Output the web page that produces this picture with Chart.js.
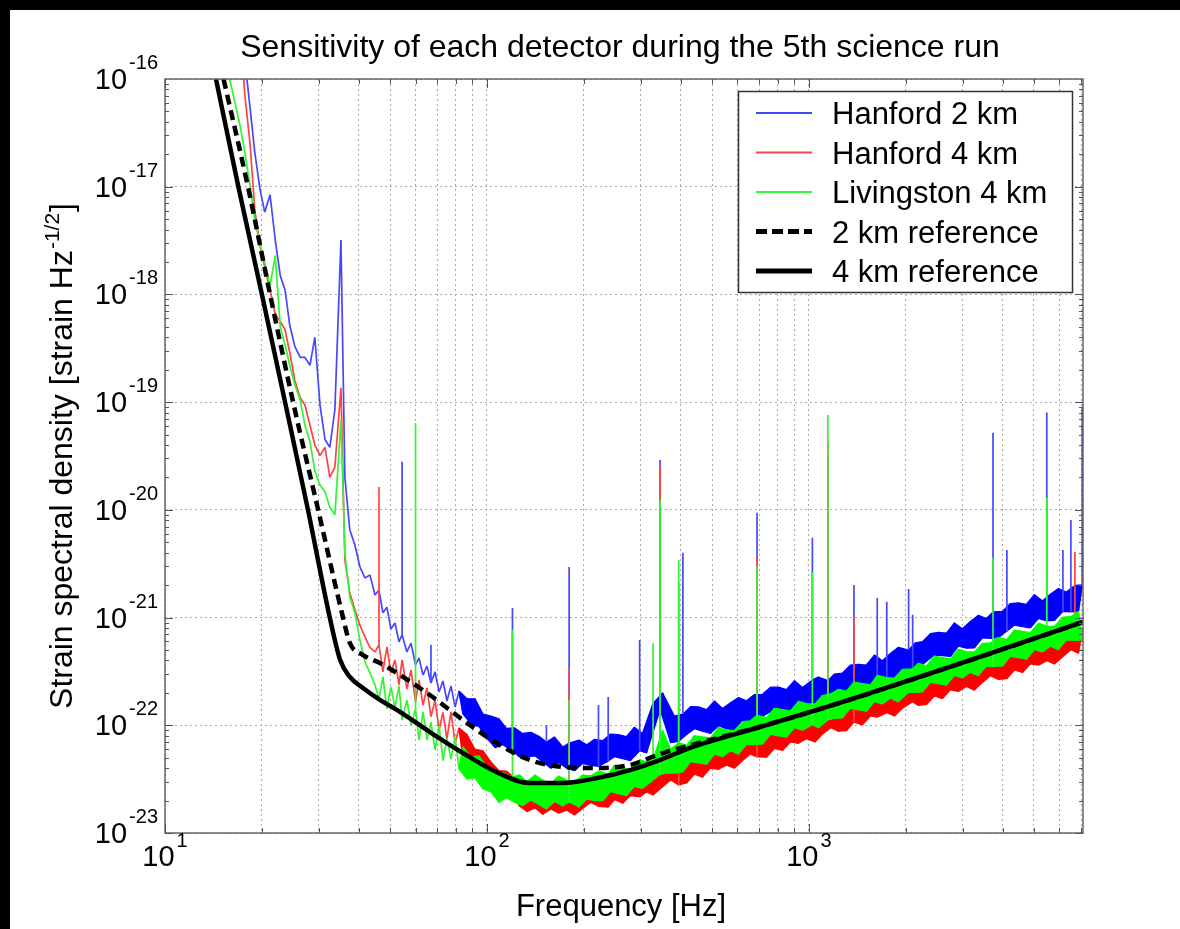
<!DOCTYPE html>
<html>
<head>
<meta charset="utf-8">
<title>Sensitivity of each detector during the 5th science run</title>
<script src="https://cdn.jsdelivr.net/npm/chart.js@4/dist/chart.umd.min.js"></script>
<style>
  html, body { margin: 0; padding: 0; background: #fff; overflow: hidden; width: 100%; height: 100%; }
  #sensChart { position: fixed; left: 0; top: 0; display: block; }
</style>
</head>
<body>
<canvas id="sensChart" width="1180" height="929"></canvas>
<script>
// amplitudes below are in units of 1e-23 strain/sqrt(Hz)
var ASD_UNIT = 1e-23

// seismic wall, below ~45 Hz each spectrum is a single trace [Hz]
var lowFreqHz = [
  15.4, 15.9, 16.5, 17.1, 17.7, 18.4, 19.0, 19.7, 20.4, 21.2,
  22.0, 22.8, 23.6, 24.4, 25.3, 26.3, 27.2, 28.2, 29.2, 30.3,
  31.4, 32.5, 33.7, 35.2, 36.2, 37.5, 38.9, 40.3, 41.8, 43.3,
  44.9
]
var h2Low = [
  1e9, 4e8, 1.3e8, 4.4e7, 1.5e7, 5.2e6, 2.1e6, 9.7e5, 5.8e5, 8.4e5,
  3.2e5, 1.5e5, 1.1e5, 5.2e4, 3.3e4, 2.6e4, 2.6e4, 2.2e4, 4.0e4, 9.4e3,
  4.5e3, 3.8e3, 8.5e3, 3.2e5, 2.0e3, 650, 472, 295, 233, 249,
  162
]
var h1Low = [
  1e9, 3e8, 1e8, 3e7, 7.1e6, 2.4e6, 6.1e5, 2.9e5, 1.8e5, 1.1e5,
  6.5e4, 5.6e4, 4.7e4, 2.9e4, 1.6e4, 1.1e4, 9.4e3, 6.1e3, 4.0e3, 3.2e3,
  3.8e3, 2.0e3, 2.5e3, 1.36e4, 343, 169, 118, 85, 66, 53,
  48
]
var l1Low = [
  1.5e7, 9.8e6, 6.0e6, 3.7e6, 2.1e6, 1.0e6, 4.9e5, 3.0e5, 2.0e5, 1.2e5,
  2.3e5, 5.0e4, 3.4e4, 2.2e4, 1.45e4, 1.05e4, 6.1e3, 4.3e3, 2.3e3, 1.7e3,
  1.47e3, 1.06e3, 900, 6.8e3, 400, 155, 110, 62, 38.7, 30.6,
  23.7
]

// above ~45 Hz: noisy floor, alternating upper / lower excursion per bin
var bandFreqHz = [
  46.2, 47.5, 48.9, 50.3, 51.8, 53.3, 54.5, 56.4, 58.1, 60,
  61.5, 63.3, 65.1, 67.0, 69.0, 71.0, 73.0, 75.1, 77.3, 79.6,
  81.9, 84.3, 86.7, 89.2, 91.8, 94.5, 97.2, 100, 103, 106,
  109, 112, 115, 120, 122, 126, 129, 133, 137, 141,
  145, 149, 153, 158, 162, 167, 172, 177, 180, 187,
  193, 198, 204, 210, 216, 222, 229, 238, 242, 249,
  256, 264, 271, 279, 287, 298, 304, 313, 322, 328,
  345, 351, 361, 372, 382, 394, 406, 417, 429, 441,
  454, 467, 481, 495, 509, 524, 539, 555, 571, 587,
  604, 622, 640, 658, 677, 690, 717, 738, 760, 782,
  804, 828, 852, 876, 902, 928, 955, 982, 1025, 1045,
  1070, 1101, 1145, 1170, 1200, 1235, 1270, 1307, 1345, 1380,
  1425, 1466, 1508, 1552, 1597, 1630, 1691, 1745, 1791, 1843,
  1896, 1951, 2040, 2100, 2140, 2188, 2251, 2317, 2384, 2453,
  2524, 2597, 2673, 2750, 2830, 2912, 2997, 3084, 3173, 3265,
  3360, 3458, 3558, 3661, 3730, 3877, 3989, 4120, 4224, 4347,
  4473, 4603, 4736, 4874, 5015, 5161, 5310, 5480, 5623, 5786,
  5954, 6150, 6304, 6510, 6700, 6869, 7060
]
var h2Band = [
  180, 111, 125, 78.5, 89, 59.4, 69, 48, 58, 36.3,
  42.2, 29.3, 35.4, 24.7, 31.3, 20.4, 25.8, 16.8, 23.2, 14.8,
  20.8, 12.7, 17.7, 10.3, 17.6, 9.7, 12.7, 7.55, 12.2, 6.2,
  11.5, 6.6, 9.35, 5.8, 9.45, 5.1, 8.4, 5.1, 8.6, 5.2,
  7.9, 4.55, 7.0, 4.0, 7.8, 4.5, 6.3, 4.0, 6.85, 3.78,
  7.3, 4.42, 6.6, 4.25, 7.4, 4.15, 7.2, 4.65, 8.3, 5.1,
  8.2, 4.9, 7.85, 4.7, 9.6, 5.8, 8.4, 5.53, 12.4, 16,
  14, 20, 14.5, 6.9, 12.2, 7.1, 12.7, 8.2, 14.9, 9.3,
  14.8, 8.8, 14.0, 8.4, 16.8, 9.9, 14.3, 9.25, 16.2, 9.1,
  18.1, 11.1, 16.9, 10.9, 19.3, 11.2, 19.4, 12.7, 22.6, 14.1,
  22.6, 13.5, 21.5, 12.9, 26, 15.6, 22.4, 14.6, 26.4, 14.2,
  28.1, 17.2, 26, 17.0, 29.9, 17.4, 30.5, 20.1, 36.2, 22.6,
  36.7, 22.3, 36.3, 21.9, 44.9, 27.3, 39.7, 26.4, 46.4, 26.4,
  53.0, 32.9, 50, 33, 58.2, 33.8, 59.7, 39.3, 71, 44.9,
  73.0, 44.3, 71.8, 43.5, 89.3, 54.2, 78.8, 52.0, 92, 52.3,
  105, 64.8, 98, 64.2, 113, 65.2, 114, 75, 135, 84.9,
  137, 82.5, 133, 80.2, 163, 98, 143, 93, 165, 94,
  186, 114, 173, 113, 199, 114, 201
]
var h1Band = [
  55.7, 31.3, 53.4, 30.6, 40.4, 23.7, 40.4, 21.7, 32.6, 16.5,
  26.4, 15.4, 22.2, 12.0, 17.1, 9.0, 13.2, 7.45, 13.3, 6.85,
  9.45, 4.97, 8.2, 4.6, 6.0, 3.45, 5.8, 3.1, 4.55, 2.35,
  3.8, 2.3, 3.75, 2.2, 3.25, 1.79, 2.7, 1.58, 3.0, 1.71,
  2.58, 1.49, 2.68, 1.67, 2.4, 1.53, 2.8, 1.63, 2.62, 1.47,
  2.6, 1.69, 3.0, 1.92, 3.0, 1.77, 2.8, 1.74, 3.52, 2.04,
  3.18, 1.89, 3.52, 2.22, 3.3, 2.16, 4.1, 2.4, 3.97, 2.25,
  4.1, 2.68, 4.8, 3.1, 4.9, 2.79, 4.6, 2.91, 5.9, 3.52,
  5.5, 3.3, 6.2, 4.0, 5.9, 3.9, 7.2, 4.27, 7.0, 4.0,
  7.1, 4.7, 8.4, 5.4, 8.5, 5.08, 8.2, 5.05, 10.4, 6.1,
  9.7, 5.85, 11.0, 7.0, 10.3, 6.8, 12.7, 7.5, 12.3, 7.0,
  12.5, 8.3, 15.4, 9.5, 14.9, 8.8, 14.2, 8.9, 18.1, 10.7,
  16.9, 10.1, 19.0, 12.2, 18.1, 11.9, 22.2, 13.1, 21.5, 12.2,
  21.8, 14.4, 25.7, 16.5, 26.1, 15.3, 24.7, 15.6, 31.6, 18.7,
  29.2, 17.7, 33.2, 21.3, 31.4, 20.6, 38.8, 22.9, 37.6, 21.2,
  38.1, 25.0, 44.8, 28.8, 45.4, 26.7, 43.1, 27.1, 55.4, 32.6,
  51.4, 30.9, 58, 37.2, 55, 36.1, 67.6, 39.7, 65.7, 37.1,
  66.5, 43.5, 78.4, 50.2, 79.5, 46.6, 76.4
]
var l1Band = [
  17.6, 28.1, 14.2, 22.7, 14.5, 23.2, 11.2, 17.1, 9.9, 14.2,
  7.3, 13.3, 7.3, 10.7, 5.9, 9.9, 4.7, 7.62, 4.86, 7.8,
  3.92, 6.3, 3.17, 5.1, 3.24, 5.2, 2.56, 4.1, 2.4, 3.44,
  1.92, 3.65, 2.14, 3.3, 1.92, 3.47, 1.79, 3.0, 2.02, 3.45,
  1.84, 3.1, 1.67, 2.87, 1.96, 3.38, 1.78, 3.08, 1.94, 2.95,
  1.74, 3.44, 2.07, 3.4, 2.0, 3.75, 2.0, 3.52, 2.42, 4.26,
  2.32, 4.05, 2.22, 3.87, 2.71, 4.8, 2.6, 4.57, 2.96, 4.76,
  3.5, 9.0, 3.6, 6.0, 3.6, 6.9, 3.7, 6.5, 4.6, 8.0,
  4.47, 7.8, 4.35, 7.65, 5.4, 9.5, 5.1, 9.0, 5.8, 8.95,
  5.4, 10.8, 6.65, 11.0, 6.6, 12.4, 6.7, 11.8, 8.25, 14.4,
  7.95, 14.0, 7.75, 13.6, 9.5, 16.7, 9.0, 15.9, 10.1, 15.8,
  9.5, 18.9, 11.2, 19.6, 11.6, 21.6, 11.7, 20.8, 14.4, 25.2,
  13.9, 24.4, 13.5, 23.7, 16.6, 29.1, 15.8, 27.7, 17.8, 27.4,
  16.5, 33.0, 20.3, 33.5, 20.2, 37.7, 20.4, 35.7, 25.0, 44.0,
  24.3, 42.6, 23.6, 41.4, 29.0, 50.8, 27.5, 48.4, 31.0, 47.9,
  28.9, 57.6, 35.4, 58.4, 35, 65.7, 35.5, 62.6, 43.7, 76.5,
  42.4, 74.6, 41, 72.5, 50.4, 88.7, 48, 83, 54.2, 82.8,
  50.2, 101, 62.2, 102, 61.5, 114, 62
]

// narrow lines (power mains, violin modes, calibration) : frequency and peak
var h2LineHz = [54.5, 67.0, 120, 153, 180, 222, 238, 298, 345, 406, 690, 1025, 1145, 1380,
  1630, 1745, 2040, 2100, 3730, 4120, 5480, 6150, 6510, 7060]
var h2LinePeak = [2800, 56, 123, 10.0, 295, 15.4, 18.3, 62, 2900, 399, 939, 550, 3240, 201,
  152, 140, 184, 106, 5200, 424, 8000, 424, 803, 8900]
var h1LineHz = [46.2, 180, 345, 394, 690, 1145, 1380, 6700]
var h1LinePeak = [1630, 34.1, 2600, 214, 380, 4270, 101, 406]
var l1LineHz = [60, 120, 180, 328, 345, 394, 690, 1025, 1145, 3730, 5480]
var l1LinePeak = [6400, 77, 17.1, 58.2, 1240, 343, 300, 265, 7600, 359, 1290]

// design sensitivity curves
var ref2kmFreq = [15.2, 18.1, 21.2, 25.0, 29.9, 35.7, 37.5, 41.2, 46.5, 52.5, 66.5, 84.2,
  107, 136, 172, 220, 278, 344, 436, 705, 1137, 3396, 7100]
var ref2km = [1e7, 1e6, 1e5, 1e4, 1e3, 101, 58.1, 44.9, 37.9, 30.6, 19.1, 11.2,
  6.85, 4.76, 4.1, 4.01, 4.28, 5.4, 6.6, 9.7, 14.8, 43.1, 91]
var ref4kmFreq = [14.4, 16.9, 20.0, 23.6, 27.8, 32.5, 35.0, 37.5, 41.2, 46.5, 52.5, 66.5, 84.2,
  107, 136, 172, 220, 278, 344, 436, 705, 1137, 3396, 7100]
var ref4km = [1e7, 1e6, 1e5, 1e4, 1e3, 100, 40.4, 28.1, 22.2, 17.2, 13.9, 8.66, 5.53,
  3.68, 2.91, 2.91, 3.24, 3.84, 4.76, 6.29, 9.64, 14.8, 43.1, 91]

// axes
var xGridHz = [10, 20, 30, 40, 50, 60, 70, 80, 90, 100, 200, 300, 400, 500, 600, 700, 800, 900,
  1000, 2000, 3000, 4000, 5000, 6000, 7000]
var xLabelExp = [1, 2, 3]
var yDecades = [-23, -22, -21, -20, -19, -18, -17, -16]
var legendOrder = ['Hanford 2 km', 'Hanford 4 km', 'Livingston 4 km', '2 km reference', '4 km reference']

var FONT = '"Liberation Sans", Arial, Helvetica, sans-serif'
// dense bands are saturated, single thin traces look lighter
var BLUE = '#0000ff', RED = '#ff0000', GREEN = '#00ff00'
var BLUE_THIN = '#4747ff', RED_THIN = '#ff4242', GREEN_THIN = '#33f533'
var DENSE_FROM_HZ = 80   // above this the traces merge into a solid band

function toPoints(freqs, vals) {
  return freqs.map(function (f, i) { return { x: f, y: vals[i] * ASD_UNIT } })
}

// whole trace: seismic wall followed by the noisy floor
function fullTrace(low, band) {
  return toPoints(lowFreqHz.concat(bandFreqHz), low.concat(band))
}

// upper or lower excursions of the floor, used as the edges of the dense band
function envelope(band, upper) {
  var pts = []
  for (var i = 0; i < band.length; i++) {
    if (bandFreqHz[i] < DENSE_FROM_HZ) continue
    var prev = i > 0 ? band[i - 1] : band[i + 1]
    var next = i < band.length - 1 ? band[i + 1] : band[i - 1]
    var isMax = band[i] >= prev && band[i] >= next
    var isMin = band[i] <= prev && band[i] <= next
    var edge = bandFreqHz[i - 1] < DENSE_FROM_HZ || i === band.length - 1
    if ((upper ? isMax : isMin) || edge) pts.push({ x: bandFreqHz[i], y: band[i] * ASD_UNIT })
  }
  return pts
}

// vertical segments from the floor up to each line peak
function lineSegments(hz, peaks, band) {
  var pts = []
  hz.forEach(function (f, i) {
    var k = bandFreqHz.indexOf(f)
    var base = k >= 0 ? band[k] : peaks[i] / 10
    pts.push({ x: f, y: base * ASD_UNIT }, { x: f, y: peaks[i] * ASD_UNIT }, { x: f, y: null })
  })
  return pts
}

function isDecade(v) {
  var l = Math.log10(v)
  return Math.abs(l - Math.round(l)) < 1e-9
}

// "10" with a raised exponent; anchor 'center' or 'right'
function drawPower(ctx, exp, x, y, anchor, size, supSize, rise) {
  ctx.font = size + 'px ' + FONT
  var wb = ctx.measureText('10').width
  ctx.font = supSize + 'px ' + FONT
  var ws = ctx.measureText(exp).width
  var total = wb + 2 + ws
  var x0 = anchor === 'center' ? x - total / 2 : x - total
  ctx.textAlign = 'left'
  ctx.font = size + 'px ' + FONT
  ctx.fillText('10', x0, y)
  ctx.font = supSize + 'px ' + FONT
  ctx.fillText(exp, x0 + wb + 2, y - rise)
}

var frameAndText = {
  id: 'frameAndText',
  beforeDraw: function (chart) {
    var ctx = chart.ctx
    ctx.save()
    ctx.fillStyle = '#fff'
    ctx.fillRect(0, 0, chart.width, chart.height)
    ctx.fillStyle = '#000'
    ctx.fillRect(0, 0, chart.width, 10)
    ctx.fillRect(0, 0, 10, chart.height)
    ctx.restore()
  },
  afterDraw: function (chart) {
    var ctx = chart.ctx
    var a = chart.chartArea
    var xs = chart.scales.x
    var ys = chart.scales.y
    ctx.save()

    // axis box
    ctx.strokeStyle = '#666'
    ctx.lineWidth = 1.5
    ctx.strokeRect(a.left, a.top, a.right - a.left, a.bottom - a.top)

    // tick marks on all four sides
    ctx.beginPath()
    ctx.lineWidth = 1
    ctx.strokeStyle = '#555'
    xGridHz.forEach(function (f) {
      var px = Math.round(xs.getPixelForValue(f)) + 0.5
      var len = isDecade(f) ? 9 : 5
      ctx.moveTo(px, a.bottom); ctx.lineTo(px, a.bottom - len)
      ctx.moveTo(px, a.top); ctx.lineTo(px, a.top + len)
    })
    for (var d = 0; d < yDecades.length - 1; d++) {
      for (var m = 1; m <= 9; m++) {
        var py = Math.round(ys.getPixelForValue(m * Math.pow(10, yDecades[d]))) + 0.5
        var len = m === 1 ? 8 : 4
        ctx.moveTo(a.left, py); ctx.lineTo(a.left + len, py)
        ctx.moveTo(a.right, py); ctx.lineTo(a.right - len, py)
      }
    }
    ctx.stroke()

    // tick labels
    ctx.fillStyle = '#000'
    ctx.textBaseline = 'alphabetic'
    xLabelExp.forEach(function (e) {
      drawPower(ctx, String(e), xs.getPixelForValue(Math.pow(10, e)), 866, 'center', 29, 20, 19)
    })
    yDecades.forEach(function (e) {
      drawPower(ctx, String(e), 158, ys.getPixelForValue(Math.pow(10, e)) + 10, 'right', 29, 20, 20)
    })

    // title and axis titles
    ctx.textAlign = 'center'
    ctx.font = '32px ' + FONT
    ctx.fillText('Sensitivity of each detector during the 5th science run', (a.left + a.right) / 2 - 4, 57)
    ctx.font = '31px ' + FONT
    ctx.fillText('Frequency [Hz]', (a.left + a.right) / 2 - 3, 916)

    ctx.save()
    ctx.translate(72, (a.top + a.bottom) / 2)
    ctx.rotate(-Math.PI / 2)
    var main = 'Strain spectral density [strain Hz'
    ctx.font = '32px ' + FONT
    var w1 = ctx.measureText(main).width
    var w3 = ctx.measureText(']').width
    ctx.font = '21px ' + FONT
    var w2 = ctx.measureText('-1/2').width
    var sx = -(w1 + w2 + w3 + 2) / 2
    ctx.textAlign = 'left'
    ctx.font = '32px ' + FONT
    ctx.fillText(main, sx, 0)
    ctx.font = '21px ' + FONT
    ctx.fillText('-1/2', sx + w1 + 1, -13)
    ctx.font = '32px ' + FONT
    ctx.fillText(']', sx + w1 + w2 + 2, 0)
    ctx.restore()

    // legend
    ctx.fillStyle = '#fff'
    ctx.fillRect(738, 91, 335, 202)
    ctx.strokeStyle = '#333'
    ctx.lineWidth = 1.5
    ctx.strokeRect(738.5, 91.5, 334, 201)
    ctx.font = '31px ' + FONT
    ctx.textAlign = 'left'
    legendOrder.forEach(function (name, i) {
      var ds = chart.data.datasets.filter(function (d) { return d.label === name })[0]
      var cy = 113 + i * 39.5
      ctx.beginPath()
      ctx.strokeStyle = ds.borderColor
      ctx.lineWidth = ds.borderWidth > 3 ? 5 : 2
      ctx.setLineDash(ds.borderDash ? [11, 5] : [])
      ctx.moveTo(756, cy)
      ctx.lineTo(812, cy)
      ctx.stroke()
      ctx.setLineDash([])
      ctx.fillStyle = '#000'
      ctx.fillText(name, 832, cy + 11)
    })
    ctx.restore()
  }
}

function traceSet(label, data, color, order) {
  return { label: label, data: data, borderColor: color, backgroundColor: color,
    borderWidth: 1.7, order: order }
}
// the dense band: upper edge filled down to the lower edge (next dataset)
function bandSets(label, band, color, order) {
  return [
    { label: label + ' upper', data: envelope(band, true), borderColor: color, backgroundColor: color,
      borderWidth: 1.2, fill: '+1', order: order },
    { label: label + ' lower', data: envelope(band, false), borderColor: color, backgroundColor: color,
      borderWidth: 1.2, fill: false, order: order }
  ]
}

// higher order is painted first: each trace sits under its own band
var datasets = [].concat(
  [traceSet('Hanford 2 km', fullTrace(h2Low, h2Band), BLUE_THIN, 12)],
  bandSets('Hanford 2 km', h2Band, BLUE, 11),
  [traceSet('Hanford 2 km lines', lineSegments(h2LineHz, h2LinePeak, h2Band), BLUE_THIN, 10)],
  [traceSet('Hanford 4 km', fullTrace(h1Low, h1Band), RED_THIN, 9)],
  bandSets('Hanford 4 km', h1Band, RED, 8),
  [traceSet('Hanford 4 km lines', lineSegments(h1LineHz, h1LinePeak, h1Band), RED_THIN, 7)],
  [traceSet('Livingston 4 km', fullTrace(l1Low, l1Band), GREEN_THIN, 6)],
  bandSets('Livingston 4 km', l1Band, GREEN, 5),
  [traceSet('Livingston 4 km lines', lineSegments(l1LineHz, l1LinePeak, l1Band), GREEN_THIN, 4)],
  [
    { label: '2 km reference', data: toPoints(ref2kmFreq, ref2km), borderColor: '#000000',
      borderWidth: 4.5, borderDash: [10, 6], cubicInterpolationMode: 'monotone',
      borderJoinStyle: 'round', order: 2 },
    { label: '4 km reference', data: toPoints(ref4kmFreq, ref4km), borderColor: '#000000',
      borderWidth: 4.5, cubicInterpolationMode: 'monotone', borderJoinStyle: 'round', order: 1 }
  ]
)

new Chart(document.getElementById('sensChart'), {
  type: 'line',
  data: { datasets: datasets },
  options: {
    responsive: false,
    animation: false,
    events: [],
    devicePixelRatio: 1,
    layout: { padding: { left: 165, top: 79, right: 97, bottom: 96 } },
    elements: {
      point: { radius: 0 },
      line: { tension: 0, borderJoinStyle: 'bevel' }
    },
    plugins: {
      legend: { display: false },
      title: { display: false },
      tooltip: { enabled: false },
      filler: { propagate: false }
    },
    scales: {
      x: {
        type: 'logarithmic',
        min: 10,
        max: 7100,
        ticks: { display: false },
        grid: { color: '#aaaaaa', lineWidth: 1, drawTicks: false },
        border: { display: false, dash: [2, 3] },
        afterBuildTicks: function (axis) {
          axis.ticks = xGridHz.map(function (v) { return { value: v } })
        },
        afterFit: function (axis) { axis.height = 0 }
      },
      y: {
        type: 'logarithmic',
        min: 1e-23,
        max: 1e-16,
        ticks: { display: false },
        grid: { color: '#aaaaaa', lineWidth: 1, drawTicks: false },
        border: { display: false, dash: [2, 3] },
        afterBuildTicks: function (axis) {
          axis.ticks = yDecades.map(function (e) { return { value: Math.pow(10, e) } })
        },
        afterFit: function (axis) { axis.width = 0 }
      }
    }
  },
  plugins: [frameAndText]
})
</script>
</body>
</html>
